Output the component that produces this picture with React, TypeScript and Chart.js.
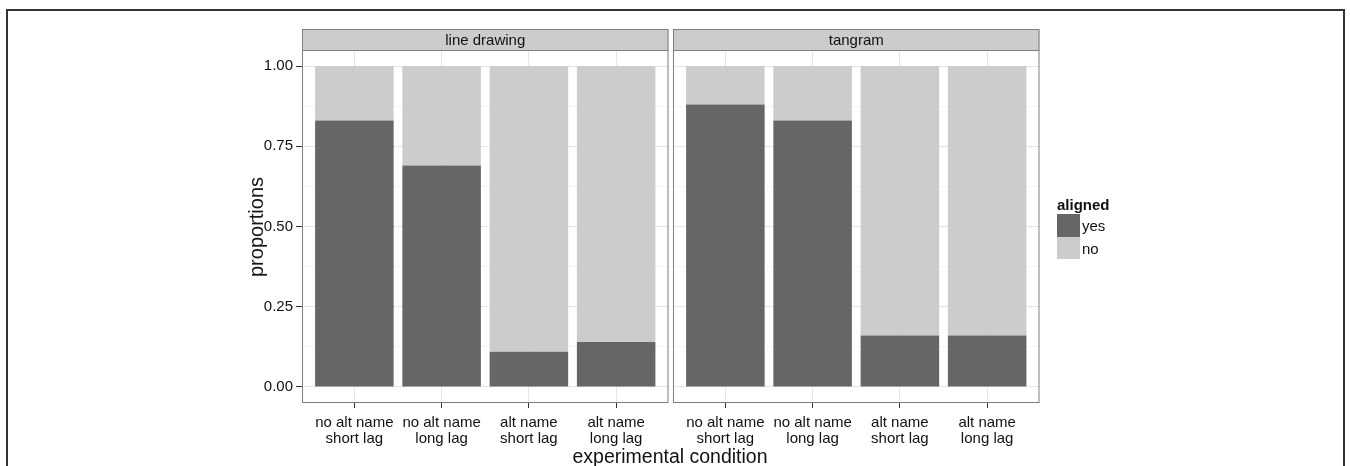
import React, { useEffect, useRef } from "react";
import { Chart, registerables } from "chart.js";

Chart.register(...registerables);

// ---- data ----
const categories: string[][] = [
  ["no alt name", "short lag"],
  ["no alt name", "long lag"],
  ["alt name", "short lag"],
  ["alt name", "long lag"],
];
const categoryPositions = [1, 2, 3, 4];
const panelTitles = ["line drawing", "tangram"];
const seriesNames = ["yes", "no"];
const lineDrawingYes = [0.83, 0.69, 0.11, 0.14];
const lineDrawingNo = [0.17, 0.31, 0.89, 0.86];
const tangramYes = [0.88, 0.83, 0.16, 0.16];
const tangramNo = [0.12, 0.17, 0.84, 0.84];
const yMajorTicks = [0, 0.25, 0.5, 0.75, 1];
const yMinorTicks = [0.125, 0.375, 0.625, 0.875];
const legendTitle = "aligned";
const yTitle = "proportions";
const xTitle = "experimental condition";

// ---- style ----
const FONT = "'Liberation Sans', Arial, Helvetica, sans-serif";
const DARK = "#666666";
const LIGHT = "#cccccc";
const BORDER = "#7f7f7f";
const GRID_MAJOR = "#e5e5e5";
const GRID_MINOR = "#f3f3f3";
const TEXT = "#111111";

const H = 466;
const AREA_TOP = 50;
const AREA_BOTTOM = 403;
const STRIP_TOP = 29;

function isMinor(v: number) {
  return yMinorTicks.some((m) => Math.abs(m - v) < 1e-9);
}

const panelPlugin = (title: string) => ({
  id: "panelDecor",
  afterDraw(chart: any) {
    const { ctx, chartArea } = chart;
    const { left, right, top, bottom } = chartArea;
    ctx.save();
    // strip
    ctx.fillStyle = LIGHT;
    ctx.fillRect(left, STRIP_TOP, right - left, top - STRIP_TOP);
    ctx.strokeStyle = BORDER;
    ctx.lineWidth = 1;
    ctx.strokeRect(left + 0.5, STRIP_TOP + 0.5, right - left - 1, top - STRIP_TOP);
    ctx.fillStyle = TEXT;
    ctx.font = `15px ${FONT}`;
    ctx.textAlign = "center";
    ctx.textBaseline = "middle";
    ctx.fillText(title, (left + right) / 2, (STRIP_TOP + top) / 2 + 1);
    // panel border
    ctx.strokeRect(left + 0.5, top + 0.5, right - left - 1, bottom - top - 1);
    ctx.restore();
  },
});

function makeChart(
  canvas: HTMLCanvasElement,
  title: string,
  yes: number[],
  no: number[],
  showY: boolean,
  padLeft: number,
  padRight: number,
  yAxisWidth: number
) {
  return new Chart(canvas, {
    type: "bar",
    data: {
      datasets: [
        {
          label: seriesNames[0],
          data: categoryPositions.map((x, i) => ({ x, y: yes[i] })),
          backgroundColor: DARK,
          borderWidth: 0,
          barPercentage: 0.9,
          categoryPercentage: 1,
        },
        {
          label: seriesNames[1],
          data: categoryPositions.map((x, i) => ({ x, y: no[i] })),
          backgroundColor: LIGHT,
          borderWidth: 0,
          barPercentage: 0.9,
          categoryPercentage: 1,
        },
      ],
    },
    options: {
      responsive: false,
      animation: false,
      devicePixelRatio: 1,
      layout: { padding: { top: AREA_TOP, left: padLeft, right: padRight, bottom: 0 } },
      plugins: { legend: { display: false }, tooltip: { enabled: false } },
      scales: {
        x: {
          type: "linear",
          stacked: true,
          offset: false,
          min: 0.4,
          max: 4.6,
          afterBuildTicks: (scale: any) => {
            scale.ticks = categoryPositions.map((v) => ({ value: v }));
          },
          afterFit: (scale: any) => {
            scale.height = H - AREA_BOTTOM;
          },
          grid: {
            offset: false,
            color: GRID_MAJOR,
            lineWidth: 1,
            drawTicks: true,
            tickLength: 5,
            tickColor: "#333333",
          },
          border: { display: false },
          ticks: {
            autoSkip: false,
            maxRotation: 0,
            padding: 6,
            color: TEXT,
            font: { family: FONT, size: 15, lineHeight: 1.12 },
            callback: (v: any) => {
              const i = categoryPositions.indexOf(Number(v));
              return i >= 0 ? categories[i] : "";
            },
          },
        },
        y: {
          type: "linear",
          stacked: true,
          min: -0.05,
          max: 1.05,
          afterBuildTicks: (scale: any) => {
            scale.ticks = [...yMajorTicks, ...yMinorTicks]
              .sort((a, b) => a - b)
              .map((v) => ({ value: v }));
          },
          afterFit: (scale: any) => {
            scale.width = yAxisWidth;
          },
          grid: {
            color: (c: any) => (c.tick && isMinor(c.tick.value) ? GRID_MINOR : GRID_MAJOR),
            lineWidth: 1,
            drawTicks: showY,
            tickLength: 6,
            tickColor: (c: any) =>
              c.tick && isMinor(c.tick.value) ? "rgba(0,0,0,0)" : "#333333",
          },
          border: { display: false },
          ticks: {
            display: showY,
            padding: 3,
            color: TEXT,
            font: { family: FONT, size: 15 },
            callback: (v: any) => (isMinor(Number(v)) ? "" : Number(v).toFixed(2)),
          },
        },
      },
    },
    plugins: [panelPlugin(title)],
  } as any);
}

export default function App() {
  const leftRef = useRef<HTMLCanvasElement>(null);
  const rightRef = useRef<HTMLCanvasElement>(null);

  useEffect(() => {
    document.body.style.margin = "0";
    document.documentElement.style.overflow = "hidden";
    const c1 = makeChart(leftRef.current!, panelTitles[0], lineDrawingYes, lineDrawingNo, true, 0, 2.5, 302);
    const c2 = makeChart(rightRef.current!, panelTitles[1], tangramYes, tangramNo, false, 2, 310.5, 0);
    return () => {
      c1.destroy();
      c2.destroy();
    };
  }, []);

  return (
    <div
      style={{
        position: "relative",
        width: 1350,
        height: H,
        overflow: "hidden",
        background: "#ffffff",
        fontFamily: FONT,
      }}
    >
      <div
        style={{
          position: "absolute",
          left: 6,
          top: 9,
          width: 1339,
          height: 520,
          border: "2px solid #333333",
          boxSizing: "border-box",
        }}
      />
      <canvas
        ref={leftRef}
        width={671}
        height={H}
        style={{ position: "absolute", left: 0, top: 0, width: 671, height: H }}
      />
      <canvas
        ref={rightRef}
        width={679}
        height={H}
        style={{ position: "absolute", left: 671, top: 0, width: 679, height: H }}
      />
      <div
        style={{
          position: "absolute",
          left: 256,
          top: 227,
          transform: "translate(-50%, -50%) rotate(-90deg)",
          fontSize: 20,
          color: TEXT,
          whiteSpace: "nowrap",
          lineHeight: 1,
        }}
      >
        {yTitle}
      </div>
      <div
        style={{
          position: "absolute",
          left: 670,
          top: 457,
          transform: "translate(-50%, -50%)",
          fontSize: 19.5,
          color: TEXT,
          whiteSpace: "nowrap",
          lineHeight: 1,
        }}
      >
        {xTitle}
      </div>
      <div
        style={{
          position: "absolute",
          left: 1057,
          top: 197,
          fontSize: 15,
          fontWeight: "bold",
          color: TEXT,
          lineHeight: 1,
        }}
      >
        {legendTitle}
      </div>
      {seriesNames.map((name, i) => (
        <React.Fragment key={name}>
          <div
            style={{
              position: "absolute",
              left: 1057,
              top: 214 + i * 22.5,
              width: 22.5,
              height: 22.5,
              background: i === 0 ? DARK : LIGHT,
            }}
          />
          <div
            style={{
              position: "absolute",
              left: 1082,
              top: 214 + i * 22.5 + 11.25,
              transform: "translateY(-50%)",
              fontSize: 15,
              color: TEXT,
              lineHeight: 1,
            }}
          >
            {name}
          </div>
        </React.Fragment>
      ))}
    </div>
  );
}
